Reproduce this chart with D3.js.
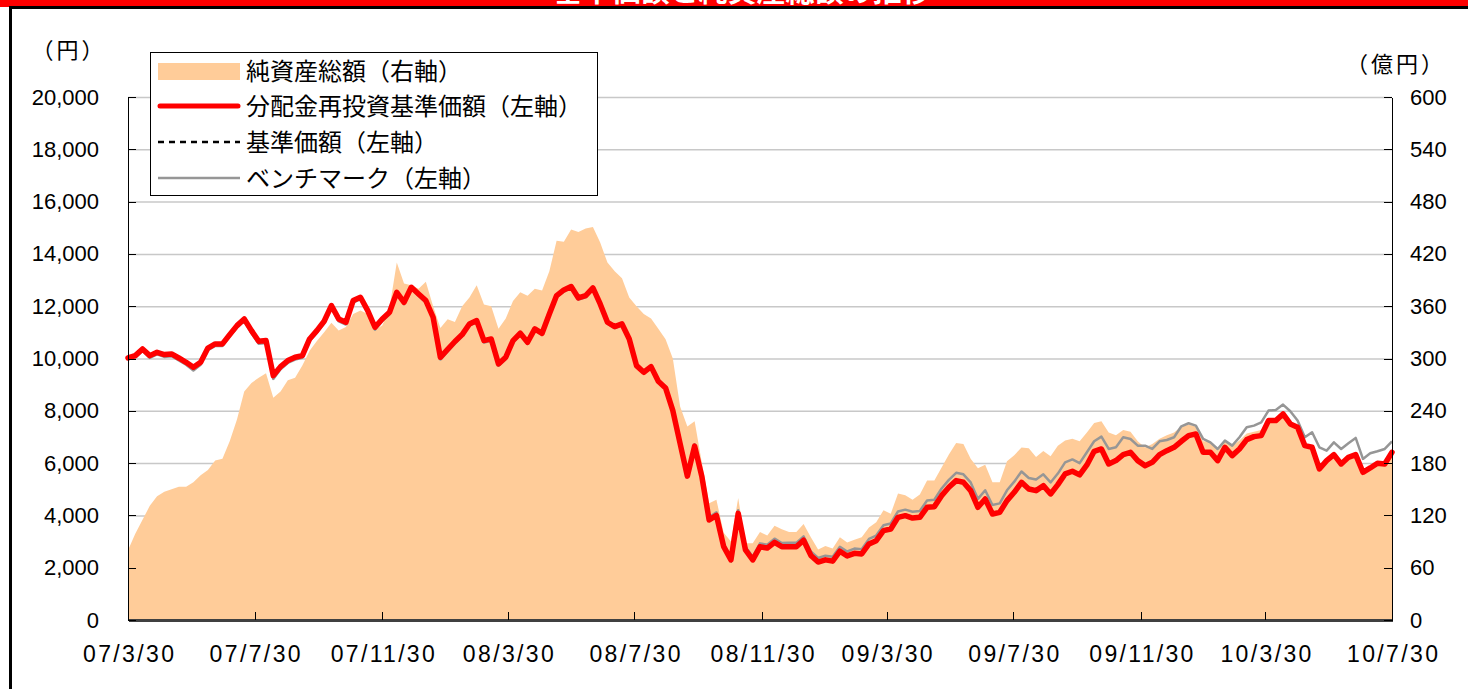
<!DOCTYPE html>
<html>
<head>
<meta charset="utf-8">
<script src="https://cdn.jsdelivr.net/npm/d3@7"></script>
<style>
  html, body { margin: 0; padding: 0; background: #fff; }
  svg { display: block; }
</style>
</head>
<body>
<div id="chart"></div>
<script>
// weekly points (yy/mm/dd)
var dates = [
  "07/03/30","07/04/06","07/04/13","07/04/20","07/04/27","07/05/04","07/05/11","07/05/18","07/05/25","07/06/01",
  "07/06/08","07/06/15","07/06/22","07/06/29","07/07/06","07/07/13","07/07/20","07/07/27","07/08/03","07/08/10",
  "07/08/17","07/08/24","07/08/31","07/09/07","07/09/14","07/09/21","07/09/28","07/10/05","07/10/12","07/10/19",
  "07/10/26","07/11/02","07/11/09","07/11/16","07/11/23","07/11/30","07/12/07","07/12/14","07/12/21","07/12/28",
  "08/01/04","08/01/11","08/01/18","08/01/25","08/02/01","08/02/08","08/02/15","08/02/22","08/02/29","08/03/07",
  "08/03/14","08/03/21","08/03/28","08/04/04","08/04/11","08/04/18","08/04/25","08/05/02","08/05/09","08/05/16",
  "08/05/23","08/05/30","08/06/06","08/06/13","08/06/20","08/06/27","08/07/04","08/07/11","08/07/18","08/07/25",
  "08/08/01","08/08/08","08/08/15","08/08/22","08/08/29","08/09/05","08/09/12","08/09/19","08/09/26","08/10/03",
  "08/10/10","08/10/17","08/10/24","08/10/31","08/11/07","08/11/14","08/11/21","08/11/28","08/12/05","08/12/12",
  "08/12/19","08/12/26","09/01/02","09/01/09","09/01/16","09/01/23","09/01/30","09/02/06","09/02/13","09/02/20",
  "09/02/27","09/03/06","09/03/13","09/03/20","09/03/27","09/04/03","09/04/10","09/04/17","09/04/24","09/05/01",
  "09/05/08","09/05/15","09/05/22","09/05/29","09/06/05","09/06/12","09/06/19","09/06/26","09/07/03","09/07/10",
  "09/07/17","09/07/24","09/07/31","09/08/07","09/08/14","09/08/21","09/08/28","09/09/04","09/09/11","09/09/18",
  "09/09/25","09/10/02","09/10/09","09/10/16","09/10/23","09/10/30","09/11/06","09/11/13","09/11/20","09/11/27",
  "09/12/04","09/12/11","09/12/18","09/12/25","10/01/01","10/01/08","10/01/15","10/01/22","10/01/29","10/02/05",
  "10/02/12","10/02/19","10/02/26","10/03/05","10/03/12","10/03/19","10/03/26","10/04/02","10/04/09","10/04/16",
  "10/04/23","10/04/30","10/05/07","10/05/14","10/05/21","10/05/28","10/06/04","10/06/11","10/06/18","10/06/25",
  "10/07/02","10/07/09","10/07/16","10/07/23","10/07/30"
];

// 分配金再投資基準価額 (円)
var navReinvest = [
  10020,10110,10366,10110,10238,10150,10175,10020,9856,9665,
  9856,10400,10557,10557,10914,11258,11513,11067,10660,10685,
  9346,9690,9920,10047,10110,10748,11067,11424,12023,11513,
  11386,12215,12342,11832,11195,11513,11768,12533,12150,12725,
  12470,12215,11577,10047,10350,10650,10914,11322,11450,10685,
  10748,9792,10047,10685,10965,10620,11131,10965,11705,12406,
  12623,12750,12317,12406,12700,12087,11386,11220,11322,10748,
  9728,9473,9690,9129,8874,8007,6750,5500,6650,5480,
  3824,4000,2803,2300,4078,2677,2297,2803,2750,2970,
  2805,2800,2800,3050,2470,2215,2300,2250,2630,2450,
  2550,2525,2907,3035,3417,3480,3927,3990,3900,3927,
  4310,4335,4755,5075,5330,5266,4947,4310,4628,4055,
  4118,4565,4883,5266,5011,4947,5138,4820,5177,5585,
  5687,5550,5930,6451,6540,5967,6095,6324,6413,6095,
  5903,6030,6324,6477,6604,6834,7050,7115,6413,6413,
  6095,6604,6286,6540,6898,7013,7050,7625,7625,7880,
  7497,7370,6668,6605,5776,6095,6324,5967,6222,6324,
  5648,5814,5993,5967,6413
];

// 基準価額 (円)
var basePrice = [
  10020,10110,10366,10110,10238,10150,10175,10020,9856,9665,
  9856,10400,10557,10557,10914,11258,11513,11067,10660,10685,
  9346,9690,9920,10047,10110,10748,11067,11424,12023,11513,
  11386,12215,12342,11832,11195,11513,11768,12533,12150,12725,
  12470,12215,11577,10047,10350,10650,10914,11322,11450,10685,
  10748,9792,10047,10685,10965,10620,11131,10965,11705,12406,
  12623,12750,12317,12406,12700,12087,11386,11220,11322,10748,
  9728,9473,9690,9129,8874,8007,6750,5500,6650,5480,
  3824,4000,2803,2300,4078,2677,2297,2803,2750,2970,
  2805,2800,2800,3050,2470,2215,2300,2250,2630,2450,
  2550,2525,2907,3035,3417,3480,3927,3990,3900,3927,
  4310,4335,4755,5075,5330,5266,4947,4310,4628,4055,
  4118,4565,4883,5266,5011,4947,5138,4820,5177,5585,
  5687,5550,5930,6451,6540,5967,6095,6324,6413,6095,
  5903,6030,6324,6477,6604,6834,7050,7115,6413,6413,
  6095,6604,6286,6540,6898,7013,7050,7625,7625,7880,
  7497,7370,6668,6605,5776,6095,6324,5967,6222,6324,
  5648,5814,5993,5967,6413
];

// ベンチマーク (円)
var benchmark = [
  10000,10040,10290,10020,10160,10060,10090,9930,9760,9540,
  9760,10320,10480,10480,10840,11180,11430,10960,10560,10590,
  9220,9590,9830,9960,10030,10670,10990,11350,11950,11420,
  11300,12140,12270,11750,11100,11430,11690,12470,12080,12660,
  12400,12140,11500,9960,10270,10570,10850,11260,11390,10610,
  10680,9720,9980,10620,10900,10560,11070,10900,11640,12340,
  12560,12690,12250,12340,12640,12030,11330,11160,11270,10700,
  9680,9440,9670,9110,8870,8010,6800,5580,6720,5580,
  3930,4120,2920,2400,4200,2800,2420,2930,2880,3110,
  2940,2950,2950,3200,2620,2370,2460,2420,2800,2620,
  2730,2710,3100,3230,3620,3690,4150,4220,4140,4170,
  4570,4600,5030,5360,5630,5570,5260,4630,4960,4400,
  4460,4960,5290,5680,5430,5370,5570,5260,5600,6030,
  6140,6000,6413,6834,7013,6540,6604,6987,6923,6668,
  6668,6540,6834,6885,6987,7408,7523,7433,6923,6795,
  6540,6859,6668,6987,7370,7433,7560,8007,8033,8237,
  7982,7625,6987,7178,6605,6477,6795,6540,6757,6962,
  6160,6375,6451,6540,6834
];

// 純資産総額 (億円)
var netAssets = [
  80,99,115,131,142,147,150,153,153,158,
  166,172,183,185,205,230,262,272,278,283,
  255,262,275,278,292,309,320,330,341,332,
  336,351,355,351,333,338,358,410,386,384,
  380,388,360,335,345,342,360,370,384,362,
  360,334,346,366,376,372,380,378,400,435,
  434,448,445,449,451,433,410,400,392,370,
  360,351,346,334,322,300,245,222,228,180,
  134,138,100,90,140,88,88,101,97,108,
  104,101,101,110,95,81,85,82,95,89,
  92,95,106,112,126,122,145,143,138,144,
  160,160,175,190,203,202,185,174,178,158,
  158,182,189,198,197,187,194,188,200,206,
  208,205,215,226,228,215,212,218,216,205,
  198,202,208,212,215,222,224,222,205,205,
  196,206,200,206,214,216,218,230,230,236,
  225,220,200,198,172,182,188,178,185,188,
  170,175,180,180,188
];

var xTicks = ["07/3/30","07/7/30","07/11/30","08/3/30","08/7/30","08/11/30",
              "09/3/30","09/7/30","09/11/30","10/3/30","10/7/30"];
var leftTicks = [0,2000,4000,6000,8000,10000,12000,14000,16000,18000,20000];
var rightTicks = [0,60,120,180,240,300,360,420,480,540,600];

var legendItems = ["純資産総額（右軸）","分配金再投資基準価額（左軸）","基準価額（左軸）","ベンチマーク（左軸）"];

var W = 1468, H = 689;
var plot = {left: 128, right: 1392, top: 97, bottom: 620};

var parse = d3.timeParse("%y/%m/%d");
var fmtTick = d3.timeFormat("%y/%-m/%d");

var data = dates.map(function (d, i) {
  return {date: parse(d), nav: navReinvest[i], base: basePrice[i], bm: benchmark[i], assets: netAssets[i]};
});

var x = d3.scaleTime().domain([parse("07/03/30"), parse("10/07/30")]).range([plot.left, plot.right]);
var yL = d3.scaleLinear().domain([0, 20000]).range([plot.bottom, plot.top]);
var yR = d3.scaleLinear().domain([0, 600]).range([plot.bottom, plot.top]);

var svg = d3.select("#chart").append("svg")
  .attr("width", W)
  .attr("height", H);

svg.append("rect").attr("width", W).attr("height", H).attr("fill", "#fff");

// title band (cut off at top in the original too)
svg.append("rect").attr("x", 0).attr("y", 0).attr("width", W).attr("height", 7).attr("fill", "#ff0000");
svg.append("text")
  .attr("x", 742).attr("y", 2)
  .attr("text-anchor", "middle")
  .attr("fill", "#fff")
  .attr("font-family", "'Noto Sans CJK JP', sans-serif")
  .attr("font-weight", "bold")
  .attr("font-size", 29)
  .text("基準価額と純資産総額の推移");

// frame
svg.append("rect").attr("x", 9).attr("y", 6).attr("width", W - 9).attr("height", 3).attr("fill", "#000");
svg.append("rect").attr("x", 9).attr("y", 6).attr("width", 3).attr("height", H - 6).attr("fill", "#000");

// gridlines
svg.append("g").selectAll("line")
  .data(leftTicks.filter(function (d) { return d > 0; }))
  .enter().append("line")
  .attr("x1", plot.left).attr("x2", plot.right)
  .attr("y1", function (d) { return yL(d) + 0.5; })
  .attr("y2", function (d) { return yL(d) + 0.5; })
  .attr("stroke", "#c8c8c8")
  .attr("stroke-width", 1.5);

// net assets area (right axis)
var area = d3.area()
  .x(function (d) { return x(d.date); })
  .y0(yR(0))
  .y1(function (d) { return yR(d.assets); });
svg.append("path").datum(data)
  .attr("fill", "#ffcc99")
  .attr("d", area);

function lineOf(key) {
  return d3.line()
    .x(function (d) { return x(d.date); })
    .y(function (d) { return yL(d[key]); });
}

svg.append("path").datum(data)
  .attr("fill", "none").attr("stroke", "#969696").attr("stroke-width", 2.5)
  .attr("stroke-linejoin", "round")
  .attr("d", lineOf("bm"));

svg.append("path").datum(data)
  .attr("fill", "none").attr("stroke", "#000").attr("stroke-width", 2)
  .attr("stroke-dasharray", "5,4")
  .attr("d", lineOf("base"));

svg.append("path").datum(data)
  .attr("fill", "none").attr("stroke", "#ff0000").attr("stroke-width", 5.5)
  .attr("stroke-linejoin", "round").attr("stroke-linecap", "round")
  .attr("d", lineOf("nav"));

// axes
var numFont = "'Liberation Sans', Arial, sans-serif";

var gx = svg.append("g")
  .attr("transform", "translate(0," + plot.bottom + ")")
  .call(d3.axisBottom(x)
    .tickValues(xTicks.map(parse))
    .tickSizeInner(-8).tickSizeOuter(0)
    .tickFormat(fmtTick));
gx.select(".domain").attr("stroke", "#404040").attr("stroke-width", 2.5);
gx.selectAll(".tick line").attr("stroke", "#000");
gx.selectAll(".tick text")
  .attr("y", 42).attr("dy", 0)
  .attr("fill", "#000")
  .attr("font-family", numFont).attr("font-size", 23)
  .attr("textLength", function () { return this.textContent.length * 13; })
  .attr("lengthAdjust", "spacing");

var gl = svg.append("g")
  .attr("transform", "translate(" + plot.left + ",0)")
  .call(d3.axisLeft(yL)
    .tickValues(leftTicks)
    .tickSizeInner(-8).tickSizeOuter(0)
    .tickPadding(29)
    .tickFormat(d3.format(",")));
gl.select(".domain").attr("stroke", "#000");
gl.selectAll(".tick line").attr("stroke", "#000");
gl.selectAll(".tick text")
  .attr("fill", "#000")
  .attr("font-family", numFont).attr("font-size", 22);

var gr = svg.append("g")
  .attr("transform", "translate(" + plot.right + ",0)")
  .call(d3.axisRight(yR)
    .tickValues(rightTicks)
    .tickSizeInner(-8).tickSizeOuter(0)
    .tickPadding(18));
gr.select(".domain").attr("stroke", "#000");
gr.selectAll(".tick line").attr("stroke", "#000");
gr.selectAll(".tick text")
  .attr("fill", "#000")
  .attr("font-family", numFont).attr("font-size", 22);

svg.selectAll(".domain, .tick line").attr("shape-rendering", "crispEdges");

// unit labels
var cjk = "'Noto Sans CJK JP', sans-serif";
svg.append("text").attr("x", 69).attr("y", 58).attr("text-anchor", "middle")
  .attr("font-family", cjk).attr("font-size", 22).attr("letter-spacing", 3)
  .text("（円）");
svg.append("text").attr("x", 1396).attr("y", 72).attr("text-anchor", "middle")
  .attr("font-family", cjk).attr("font-size", 22).attr("letter-spacing", 3)
  .text("（億円）");

// legend
var lg = svg.append("g");
lg.append("rect")
  .attr("x", 150.5).attr("y", 52.5).attr("width", 447).attr("height", 143)
  .attr("fill", "#fff").attr("stroke", "#000").attr("stroke-width", 1);

var rowY = [71, 106, 142, 178];
lg.append("rect").attr("x", 158).attr("y", rowY[0] - 8).attr("width", 82).attr("height", 17).attr("fill", "#ffcc99");
lg.append("line").attr("x1", 160).attr("x2", 238).attr("y1", rowY[1]).attr("y2", rowY[1])
  .attr("stroke", "#ff0000").attr("stroke-width", 5).attr("stroke-linecap", "round");
lg.append("line").attr("x1", 158).attr("x2", 240).attr("y1", rowY[2]).attr("y2", rowY[2])
  .attr("stroke", "#000").attr("stroke-width", 2.5).attr("stroke-dasharray", "6,5");
lg.append("line").attr("x1", 158).attr("x2", 240).attr("y1", rowY[3]).attr("y2", rowY[3])
  .attr("stroke", "#969696").attr("stroke-width", 2.5);

lg.selectAll("text.lab")
  .data(legendItems)
  .enter().append("text")
  .attr("class", "lab")
  .attr("x", 246)
  .attr("y", function (d, i) { return rowY[i]; })
  .attr("dy", "0.36em")
  .attr("font-family", cjk)
  .attr("font-size", 24)
  .attr("fill", "#000")
  .text(function (d) { return d; });
</script>
</body>
</html>
